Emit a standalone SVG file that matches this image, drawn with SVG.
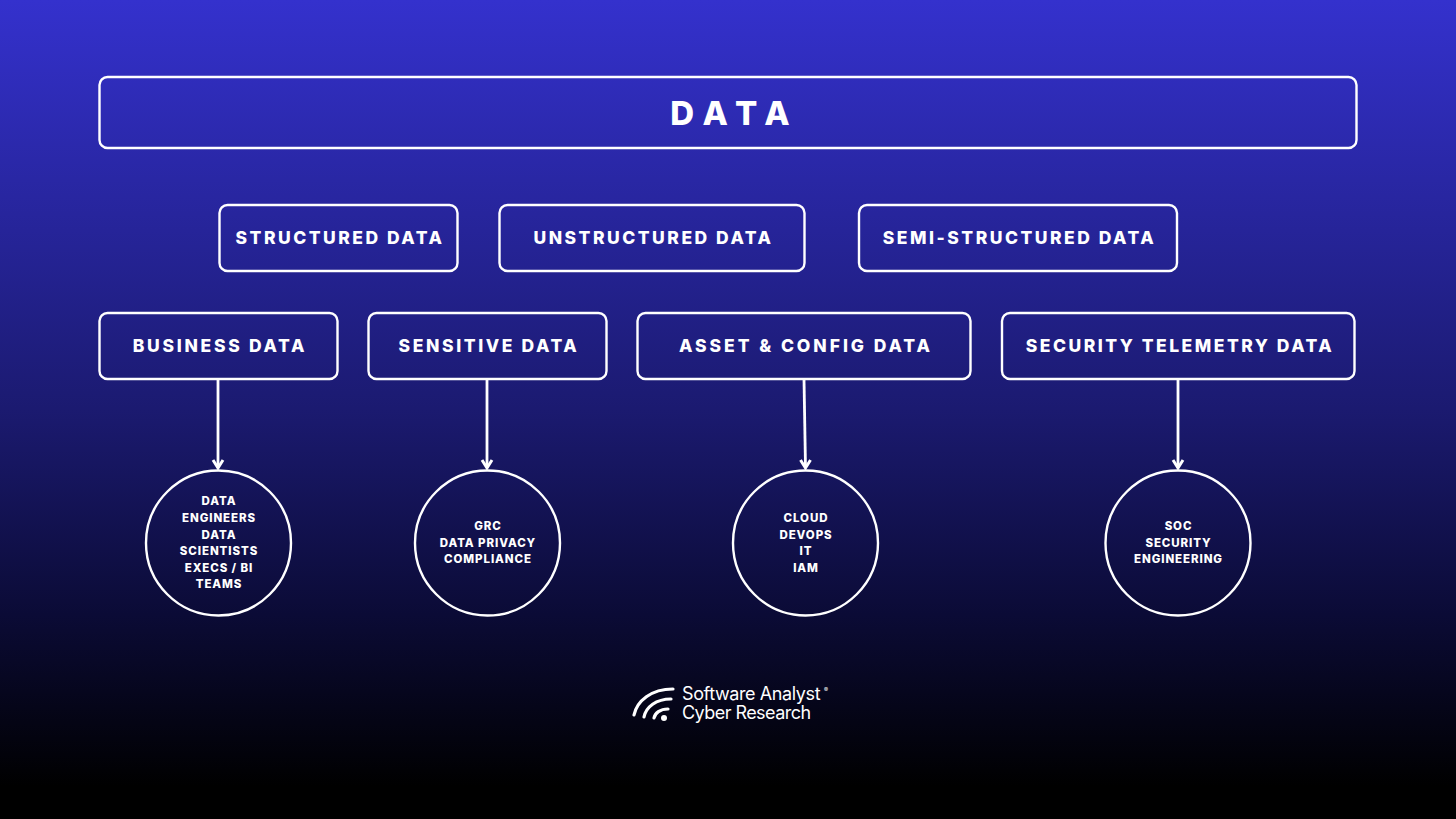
<svg xmlns="http://www.w3.org/2000/svg" width="1456" height="819" viewBox="0 0 1456 819">
<style>
text{font-family:"Inter","Liberation Sans",sans-serif;font-weight:800;fill:#fff;text-anchor:middle}
.b{fill:none;stroke:#fff;stroke-width:2.4}
.l{font-size:17.500px}
.s{font-size:11.500px;letter-spacing:0.900px}
.c{stroke:#fff;stroke-width:2.800;fill:none}
.h{stroke:#fff;stroke-width:3;fill:none}
.logo{font-weight:400;font-size:18px;text-anchor:start}
</style>
<defs><linearGradient id="bg" x1="0" y1="0" x2="0" y2="1"><stop offset="0" stop-color="#3431cd"/><stop offset="0.5" stop-color="#1b1a70"/><stop offset="0.75" stop-color="#0b0b36"/><stop offset="0.96" stop-color="#000"/><stop offset="1" stop-color="#000"/></linearGradient></defs>
<rect width="1456" height="819" fill="url(#bg)"/>
<g id="connectors">
<path class="c" d="M218 379V468"/><path class="h" d="M213 460L218 468L223 460"/>
<path class="c" d="M487 379V468"/><path class="h" d="M482 460L487 468L492 460"/>
<path class="c" d="M804 379L805.500 468"/><path class="h" d="M800.500 460L805.500 468L810.500 460"/>
<path class="c" d="M1178 379V468"/><path class="h" d="M1173 460L1178 468L1183 460"/>
</g>
<g id="data"><rect class="b" x="99.500" y="77" width="1257" height="71" rx="8"/><text x="735" y="125" font-size="33" letter-spacing="10">DATA</text></g>
<g id="structured"><rect class="b" x="219.500" y="205" width="238" height="66" rx="8"/><text class="l" x="340" y="244" letter-spacing="2.500">STRUCTURED DATA</text></g>
<g id="unstructured"><rect class="b" x="499.500" y="205" width="305" height="66" rx="8"/><text class="l" x="653.500" y="244" letter-spacing="2.500">UNSTRUCTURED DATA</text></g>
<g id="semi"><rect class="b" x="859" y="205" width="318" height="66" rx="8"/><text class="l" x="1019.500" y="244" letter-spacing="2.500">SEMI-STRUCTURED DATA</text></g>
<g id="business"><rect class="b" x="99.500" y="313" width="238" height="66" rx="8"/><text class="l" x="220" y="352" letter-spacing="2.700">BUSINESS DATA</text></g>
<g id="sensitive"><rect class="b" x="368.500" y="313" width="238" height="66" rx="8"/><text class="l" x="489" y="352" letter-spacing="2.600">SENSITIVE DATA</text></g>
<g id="asset"><rect class="b" x="637.500" y="313" width="333" height="66" rx="8"/><text class="l" x="806" y="352" letter-spacing="2.950">ASSET &amp; CONFIG DATA</text></g>
<g id="telemetry"><rect class="b" x="1002" y="313" width="352.500" height="66" rx="8"/><text class="l" x="1180" y="352" letter-spacing="2.500">SECURITY TELEMETRY DATA</text></g>
<g id="c1"><circle class="b" cx="218.500" cy="543" r="72.500"/>
<text class="s" x="219" y="505">DATA</text><text class="s" x="219" y="522">ENGINEERS</text><text class="s" x="219" y="539">DATA</text><text class="s" x="219" y="555">SCIENTISTS</text><text class="s" x="219" y="572">EXECS / BI</text><text class="s" x="219" y="588">TEAMS</text></g>
<g id="c2"><circle class="b" cx="487.500" cy="543" r="72.500"/>
<text class="s" x="488" y="530">GRC</text><text class="s" x="488" y="547">DATA PRIVACY</text><text class="s" x="488" y="563">COMPLIANCE</text></g>
<g id="c3"><circle class="b" cx="805.500" cy="543" r="72.500"/>
<text class="s" x="806" y="522">CLOUD</text><text class="s" x="806" y="539">DEVOPS</text><text class="s" x="806" y="555">IT</text><text class="s" x="806" y="572">IAM</text></g>
<g id="c4"><circle class="b" cx="1178" cy="543" r="72.500"/>
<text class="s" x="1178.500" y="530">SOC</text><text class="s" x="1178.500" y="547">SECURITY</text><text class="s" x="1178.500" y="563">ENGINEERING</text></g>
<g id="logo">
<path d="M634 715C637 701 651 689 673 689" fill="none" stroke="#fff" stroke-width="3.200" stroke-linecap="round"/>
<path d="M644 717C646 707 656 699 671 699" fill="none" stroke="#fff" stroke-width="3.200" stroke-linecap="round"/>
<path d="M654 718C655 713 660 709 668 709" fill="none" stroke="#fff" stroke-width="3.200" stroke-linecap="round"/>
<circle cx="664" cy="718" r="3" fill="#fff"/>
<text class="logo" x="682" y="700" letter-spacing="-0.400">Software Analyst</text>
<text class="logo" x="682" y="719" letter-spacing="-0.550">Cyber Research</text>
<text x="826" y="692" style="font-size:6px;font-weight:400">®</text>
</g>
</svg>
